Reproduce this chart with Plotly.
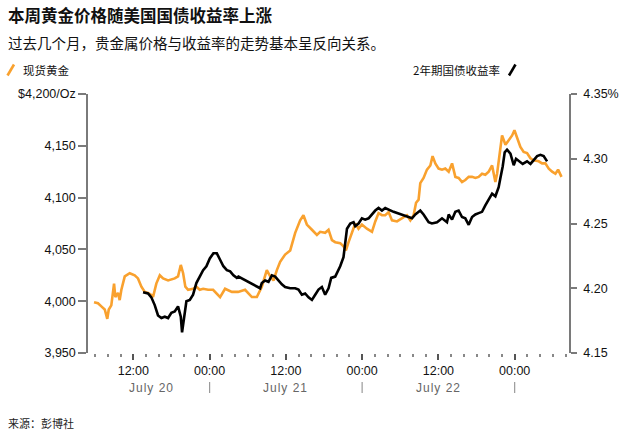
import plotly.graph_objects as go

# ---------------- data ----------------
gold_times = [
    "2025-07-20 05:49", "2025-07-20 06:26", "2025-07-20 06:58", "2025-07-20 07:30", "2025-07-20 07:54",
    "2025-07-20 08:08", "2025-07-20 08:32", "2025-07-20 08:58", "2025-07-20 09:10", "2025-07-20 09:35",
    "2025-07-20 09:51", "2025-07-20 10:07", "2025-07-20 10:39", "2025-07-20 11:26", "2025-07-20 12:13",
    "2025-07-20 12:44", "2025-07-20 13:16", "2025-07-20 13:48", "2025-07-20 14:19", "2025-07-20 14:50",
    "2025-07-20 15:06", "2025-07-20 15:37", "2025-07-20 16:10", "2025-07-20 16:41", "2025-07-20 17:28",
    "2025-07-20 18:31", "2025-07-20 19:02", "2025-07-20 19:28", "2025-07-20 19:50", "2025-07-20 20:11",
    "2025-07-20 20:37", "2025-07-20 21:24", "2025-07-20 21:55", "2025-07-20 22:27", "2025-07-20 22:59",
    "2025-07-20 23:46",
    "2025-07-21 00:33", "2025-07-21 01:39", "2025-07-21 02:26", "2025-07-21 03:30", "2025-07-21 04:29",
    "2025-07-21 05:35", "2025-07-21 06:39", "2025-07-21 07:26", "2025-07-21 08:13", "2025-07-21 09:00",
    "2025-07-21 09:32", "2025-07-21 10:03", "2025-07-21 10:35", "2025-07-21 11:06", "2025-07-21 11:53",
    "2025-07-21 12:41", "2025-07-21 13:28", "2025-07-21 14:15", "2025-07-21 14:46", "2025-07-21 15:18",
    "2025-07-21 16:06", "2025-07-21 16:53", "2025-07-21 17:24", "2025-07-21 18:11", "2025-07-21 18:43",
    "2025-07-21 19:15", "2025-07-21 19:46", "2025-07-21 20:33", "2025-07-21 21:04", "2025-07-21 21:27",
    "2025-07-21 21:52", "2025-07-21 22:24", "2025-07-21 22:55", "2025-07-21 23:26", "2025-07-21 23:58",
    "2025-07-22 00:45", "2025-07-22 01:33", "2025-07-22 02:04", "2025-07-22 02:35", "2025-07-22 03:07",
    "2025-07-22 03:38", "2025-07-22 04:10", "2025-07-22 04:42", "2025-07-22 05:29", "2025-07-22 06:16",
    "2025-07-22 07:03", "2025-07-22 07:35", "2025-07-22 08:06", "2025-07-22 08:29", "2025-07-22 08:53",
    "2025-07-22 09:09", "2025-07-22 09:40", "2025-07-22 10:12", "2025-07-22 10:44", "2025-07-22 11:05",
    "2025-07-22 11:31", "2025-07-22 12:02", "2025-07-22 12:34", "2025-07-22 13:05", "2025-07-22 13:37",
    "2025-07-22 14:09", "2025-07-22 14:40", "2025-07-22 15:11", "2025-07-22 15:43", "2025-07-22 16:14",
    "2025-07-22 16:46", "2025-07-22 17:18", "2025-07-22 17:49", "2025-07-22 18:20", "2025-07-22 18:52",
    "2025-07-22 19:23", "2025-07-22 19:55", "2025-07-22 20:27", "2025-07-22 20:58", "2025-07-22 21:14",
    "2025-07-22 21:45", "2025-07-22 22:01", "2025-07-22 22:33", "2025-07-22 23:04", "2025-07-22 23:36",
    "2025-07-22 23:58",
    "2025-07-23 00:23", "2025-07-23 00:54", "2025-07-23 01:25", "2025-07-23 01:57", "2025-07-23 02:29",
    "2025-07-23 03:00", "2025-07-23 03:47", "2025-07-23 04:19", "2025-07-23 04:50", "2025-07-23 05:22",
    "2025-07-23 05:54", "2025-07-23 06:25", "2025-07-23 06:50", "2025-07-23 07:12", "2025-07-23 07:22",
]
gold_values = [
    3999, 3998, 3995, 3992, 3983, 3992, 3996, 4017, 4004, 4008,
    4001, 4011, 4024, 4027, 4025, 4022, 4014, 4009, 4008, 4006,
    4004, 4017, 4025, 4022, 4020, 4022, 4024, 4035, 4027, 4014,
    4011, 4012, 4014, 4011, 4012, 4011,
    4011, 4004, 4012, 4009, 4009, 4011, 4004, 4004, 4014, 4030,
    4024, 4020, 4030, 4038, 4045, 4049, 4066, 4078, 4083, 4074,
    4069, 4064, 4067, 4066, 4069, 4059, 4057, 4056, 4053, 4049,
    4057, 4067, 4075, 4070, 4074,
    4070, 4067, 4077, 4085, 4083, 4083, 4086, 4078, 4077, 4080,
    4083, 4078, 4083, 4095, 4098, 4114, 4119, 4127, 4131, 4140,
    4133, 4128, 4127, 4128, 4125, 4133, 4120, 4119, 4115, 4117,
    4120, 4120, 4119, 4120, 4123, 4122, 4125, 4131, 4115, 4123,
    4148, 4160, 4151, 4156, 4160, 4165,
    4157, 4149, 4144, 4143, 4138, 4136, 4135, 4133, 4133, 4128,
    4125, 4123, 4127, 4122, 4120,
]

yield_times = [
    "2025-07-20 13:32", "2025-07-20 14:19", "2025-07-20 14:50", "2025-07-20 15:22", "2025-07-20 15:53",
    "2025-07-20 16:25", "2025-07-20 16:57", "2025-07-20 17:28", "2025-07-20 17:59", "2025-07-20 18:31",
    "2025-07-20 19:02", "2025-07-20 19:28", "2025-07-20 19:40", "2025-07-20 19:59", "2025-07-20 20:21",
    "2025-07-20 20:53", "2025-07-20 21:24", "2025-07-20 21:55", "2025-07-20 22:27", "2025-07-20 22:59",
    "2025-07-20 23:30",
    "2025-07-21 00:02", "2025-07-21 00:36", "2025-07-21 01:08", "2025-07-21 01:39", "2025-07-21 02:10",
    "2025-07-21 02:43", "2025-07-21 03:14", "2025-07-21 03:45", "2025-07-21 04:17", "2025-07-21 04:32",
    "2025-07-21 07:57", "2025-07-21 08:13", "2025-07-21 08:44", "2025-07-21 09:16", "2025-07-21 09:48",
    "2025-07-21 10:19", "2025-07-21 10:50", "2025-07-21 11:22", "2025-07-21 11:53", "2025-07-21 12:41",
    "2025-07-21 13:28", "2025-07-21 13:59", "2025-07-21 14:31", "2025-07-21 15:02", "2025-07-21 15:34",
    "2025-07-21 16:06", "2025-07-21 16:37", "2025-07-21 17:08", "2025-07-21 17:40", "2025-07-21 18:11",
    "2025-07-21 18:43", "2025-07-21 19:08", "2025-07-21 19:46", "2025-07-21 20:33", "2025-07-21 21:04",
    "2025-07-21 21:37", "2025-07-21 22:08", "2025-07-21 22:39", "2025-07-21 22:55", "2025-07-21 23:26",
    "2025-07-21 23:58",
    "2025-07-22 00:29", "2025-07-22 01:01", "2025-07-22 01:33", "2025-07-22 02:04", "2025-07-22 02:35",
    "2025-07-22 03:07", "2025-07-22 03:38", "2025-07-22 04:26", "2025-07-22 04:57",
    "2025-07-22 07:51", "2025-07-22 08:22", "2025-07-22 09:09", "2025-07-22 09:40", "2025-07-22 10:28",
    "2025-07-22 10:59", "2025-07-22 11:47", "2025-07-22 12:34", "2025-07-22 13:21", "2025-07-22 13:37",
    "2025-07-22 14:09", "2025-07-22 14:40", "2025-07-22 15:11", "2025-07-22 15:43", "2025-07-22 16:14",
    "2025-07-22 16:46", "2025-07-22 17:18", "2025-07-22 17:49", "2025-07-22 18:20", "2025-07-22 18:52",
    "2025-07-22 19:23", "2025-07-22 19:55", "2025-07-22 20:27", "2025-07-22 20:58", "2025-07-22 21:29",
    "2025-07-22 21:45", "2025-07-22 22:07", "2025-07-22 22:26", "2025-07-22 22:48", "2025-07-22 23:20",
    "2025-07-22 23:51",
    "2025-07-23 00:13", "2025-07-23 00:45", "2025-07-23 01:16", "2025-07-23 01:57", "2025-07-23 02:29",
    "2025-07-23 03:00", "2025-07-23 03:32", "2025-07-23 04:03", "2025-07-23 04:34", "2025-07-23 05:06",
]
yield_values = [
    4.197, 4.196, 4.193, 4.187, 4.179, 4.177, 4.178, 4.177, 4.181, 4.182,
    4.186, 4.178, 4.166, 4.178, 4.190, 4.191, 4.195, 4.204, 4.209, 4.214,
    4.217,
    4.223, 4.227, 4.227, 4.222, 4.217, 4.214, 4.213, 4.210, 4.208, 4.209,
    4.200, 4.204, 4.206, 4.205, 4.210, 4.209, 4.206, 4.203, 4.201, 4.200,
    4.200, 4.199, 4.195, 4.196, 4.193, 4.191, 4.195, 4.199, 4.201, 4.195,
    4.200, 4.208, 4.209, 4.217, 4.224, 4.246, 4.250, 4.251, 4.248, 4.250,
    4.254,
    4.253, 4.254, 4.257, 4.260, 4.262, 4.260, 4.262, 4.260, 4.259,
    4.254, 4.257, 4.260, 4.257, 4.251, 4.250, 4.251, 4.254, 4.251, 4.257,
    4.253, 4.259, 4.260, 4.255, 4.254, 4.249, 4.255, 4.257, 4.258, 4.259,
    4.264, 4.269, 4.273, 4.271, 4.278, 4.285, 4.294, 4.305, 4.307, 4.304,
    4.295,
    4.300, 4.298, 4.296, 4.298, 4.296, 4.299, 4.302, 4.303, 4.302, 4.298,
]

x_range = ["2025-07-20 04:52", "2025-07-23 08:33"]
x_tickvals = ["2025-07-20 12:00", "2025-07-21 00:00", "2025-07-21 12:00",
              "2025-07-22 00:00", "2025-07-22 12:00", "2025-07-23 00:00"]
x_ticktext = ["12:00", "00:00", "12:00", "00:00", "12:00", "00:00"]
day_labels = ["July 20", "July 21", "July 22"]
day_label_pos = ["2025-07-20 14:54", "2025-07-21 12:00", "2025-07-22 12:00"]
day_separators = ["2025-07-21 00:00", "2025-07-22 00:00", "2025-07-23 00:00"]

gold_ticks = [3950, 4000, 4050, 4100, 4150, 4200]
gold_ticktext = ["3,950", "4,000", "4,050", "4,100", "4,150", "$4,200/Oz"]
yield_ticks = [4.15, 4.20, 4.25, 4.30, 4.35]
yield_ticktext = ["4.15", "4.20", "4.25", "4.30", "4.35%"]

title = "本周黄金价格随美国国债收益率上涨"
subtitle = "过去几个月，贵金属价格与收益率的走势基本呈反向关系。"
gold_name = "现货黄金"
yield_name = "2年期国债收益率"
source = "来源：彭博社"

GOLD = "#F9A12E"
BLACK = "#000000"
AXIS = "#7a7a7a"
NUM_FONT = "Liberation Sans, Arial, sans-serif"
CJK_FONT = "Noto Sans CJK SC, sans-serif"

# ---------------- layout helpers ----------------
W, H = 632, 440
L, R, T, B = 88, 569, 94, 353


def px(xp):
    return (xp - L) / (R - L)


def py(yp):
    return (B - yp) / (B - T)


fig = go.Figure()
fig.add_trace(go.Scatter(x=gold_times, y=gold_values, mode="lines", name=gold_name,
                         line=dict(color=GOLD, width=2.6), yaxis="y"))
fig.add_trace(go.Scatter(x=yield_times, y=yield_values, mode="lines", name=yield_name,
                         line=dict(color=BLACK, width=2.6), yaxis="y2"))

annotations = [
    dict(text=f"<b>{title}</b>", x=px(6), y=py(15), xref="paper", yref="paper",
         xanchor="left", yanchor="middle", showarrow=False,
         font=dict(family=CJK_FONT, size=16.5, color="#111")),
    dict(text=subtitle, x=px(6), y=py(43), xref="paper", yref="paper",
         xanchor="left", yanchor="middle", showarrow=False,
         font=dict(family=CJK_FONT, size=14.5, color="#111")),
    dict(text=gold_name, x=px(21), y=py(70), xref="paper", yref="paper",
         xanchor="left", yanchor="middle", showarrow=False,
         font=dict(family=CJK_FONT, size=11.5, color="#111")),
    dict(text=yield_name, x=px(502), y=py(70), xref="paper", yref="paper",
         xanchor="right", yanchor="middle", showarrow=False,
         font=dict(family=CJK_FONT, size=11.5, color="#111")),
    dict(text=source, x=px(6), y=py(423), xref="paper", yref="paper",
         xanchor="left", yanchor="middle", showarrow=False,
         font=dict(family=CJK_FONT, size=11, color="#222")),
]
for lab, pos in zip(day_labels, day_label_pos):
    annotations.append(dict(
        text=f"<span style='letter-spacing:1px'>{lab}</span>", x=pos, y=py(388),
        xref="x", yref="paper", xanchor="center", yanchor="middle", showarrow=False,
        font=dict(family=NUM_FONT, size=12, color="#666")))

shapes = [
    dict(type="line", xref="paper", yref="paper", x0=px(7.5), y0=py(75.5), x1=px(14), y1=py(64.5),
         line=dict(color=GOLD, width=2.6)),
    dict(type="line", xref="paper", yref="paper", x0=px(509), y0=py(75.5), x1=px(515.5), y1=py(64.5),
         line=dict(color=BLACK, width=2.6)),
]
for sep in day_separators:
    shapes.append(dict(type="line", xref="x", yref="paper", x0=sep, x1=sep,
                       y0=py(382), y1=py(393), line=dict(color="#9a9a9a", width=1.2)))

fig.update_layout(
    width=W, height=H,
    margin=dict(l=L, r=W - R, t=T, b=H - B, pad=0),
    paper_bgcolor="white", plot_bgcolor="white",
    showlegend=False,
    annotations=annotations,
    shapes=shapes,
    xaxis=dict(
        type="date", range=x_range, showgrid=False, zeroline=False, showline=False,
        tickmode="array", tickvals=x_tickvals, ticktext=x_ticktext,
        ticks="outside", ticklen=6, tickwidth=1.5, tickcolor="#555",
        tickfont=dict(family=NUM_FONT, size=12.5, color="#111"),
        minor=dict(tickmode="linear", tick0="2025-07-20 00:00", dtick=2 * 3600 * 1000,
                   ticks="outside", ticklen=3, tickwidth=1.5, tickcolor="#888", showgrid=False),
    ),
    yaxis=dict(
        range=[3950, 4200], tickmode="array", tickvals=gold_ticks, ticktext=gold_ticktext,
        showgrid=False, zeroline=False, showline=True, linecolor=AXIS, linewidth=1.5,
        ticks="outside", ticklen=8, tickwidth=1.5, tickcolor=AXIS,
        tickfont=dict(family=NUM_FONT, size=12.5, color="#111"),
    ),
    yaxis2=dict(
        range=[4.15, 4.35], overlaying="y", side="right", anchor="x",
        tickmode="array", tickvals=yield_ticks, ticktext=yield_ticktext,
        showgrid=False, zeroline=False, showline=True, linecolor=AXIS, linewidth=1.5,
        ticks="outside", ticklen=6, tickwidth=1.5, tickcolor=AXIS, ticklabelstandoff=4,
        tickfont=dict(family=NUM_FONT, size=12.5, color="#111"),
    ),
)

fig.write_html("out.html")
